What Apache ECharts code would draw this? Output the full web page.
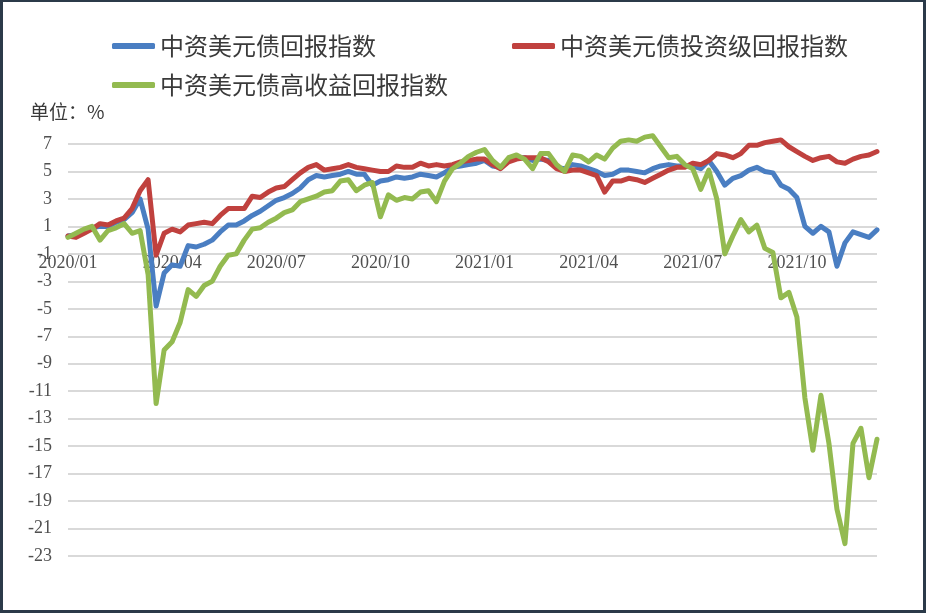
<!DOCTYPE html>
<html>
<head>
<meta charset="utf-8">
<script src="https://cdn.jsdelivr.net/npm/echarts@6/dist/echarts.min.js"></script>
<style>
  html, body { margin: 0; padding: 0; background: #fff; }
  #chart { width: 926px; height: 613px; }
  #frame { position: absolute; left: 0; top: 0; width: 926px; height: 613px; box-sizing: border-box;
           border: 3px solid #2b3a49; border-top-width: 2px; pointer-events: none; }
</style>
</head>
<body>
<div id="chart"></div>
<div id="frame"></div>
<script>
// 系列名称
const seriesNames = ['中资美元债回报指数', '中资美元债投资级回报指数', '中资美元债高收益回报指数']

// y轴刻度（奇数）
const yTicks = [-23, -21, -19, -17, -15, -13, -11, -9, -7, -5, -3, -1, 1, 3, 5, 7]

// 周度日期，从2020/01/03开始
const startDate = '2020-01-03'
const weekCount = 102

// 中资美元债回报指数
const totalReturn = [
  0.3, 0.4, 0.7, 0.9, 1.0, 1.0, 1.3, 1.5, 2.0, 3.0,
  0.8, -4.8, -2.4, -1.8, -1.9, -0.4, -0.5, -0.3, 0.0, 0.6,
  1.1, 1.1, 1.4, 1.8, 2.1, 2.5, 2.9, 3.1, 3.4, 3.8,
  4.4, 4.7, 4.6, 4.7, 4.8, 5.0, 4.8, 4.8, 4.0, 4.3,
  4.4, 4.6, 4.5, 4.6, 4.8, 4.7, 4.6, 4.9, 5.3, 5.4,
  5.5, 5.6, 5.8, 5.4, 5.3, 5.8, 6.0, 6.0, 5.8, 5.9,
  5.8, 5.3, 5.2, 5.5, 5.4, 5.2, 5.0, 4.7, 4.8, 5.1,
  5.1, 5.0, 4.9, 5.2, 5.4, 5.5, 5.4, 5.4, 5.4, 5.2,
  5.8, 5.0, 4.0, 4.5, 4.7, 5.1, 5.3, 5.0, 4.9, 4.0,
  3.7, 3.1, 1.0, 0.5, 1.0, 0.6, -1.9, -0.2, 0.6, 0.4,
  0.2, 0.75
]

// 投资级
const investGrade = [
  0.3, 0.2, 0.5, 0.8, 1.2, 1.1, 1.4, 1.6, 2.3, 3.6,
  4.4, -1.1, 0.5, 0.8, 0.6, 1.1, 1.2, 1.3, 1.2, 1.8,
  2.3, 2.3, 2.3, 3.2, 3.1, 3.5, 3.8, 3.9, 4.4, 4.9,
  5.3, 5.5, 5.1, 5.2, 5.3, 5.5, 5.3, 5.2, 5.1, 5.0,
  5.0, 5.4, 5.3, 5.3, 5.6, 5.4, 5.5, 5.4, 5.5, 5.7,
  5.8, 5.9, 5.9, 5.5, 5.2, 5.7, 5.9, 6.0, 6.0, 6.0,
  5.7, 5.2, 5.0, 5.1, 5.1, 4.9, 4.7, 3.5, 4.3, 4.3,
  4.5, 4.4, 4.2, 4.5, 4.8, 5.1, 5.3, 5.3, 5.6, 5.5,
  5.8, 6.3, 6.2, 6.0, 6.3, 6.9, 6.9, 7.1, 7.2, 7.3,
  6.8, 6.45, 6.1, 5.8, 6.0, 6.1, 5.7, 5.6, 5.9, 6.1,
  6.2, 6.45
]

// 高收益
const highYield = [
  0.2, 0.5, 0.8, 1.0, 0.0, 0.7, 0.9, 1.2, 0.5, 0.7,
  -2.5, -11.9, -8.0, -7.4, -6.0, -3.6, -4.1, -3.3, -3.0, -1.9,
  -1.1, -1.0, 0.0, 0.8, 0.9, 1.3, 1.6, 2.0, 2.2, 2.8,
  3.0, 3.2, 3.5, 3.6, 4.3, 4.4, 3.6, 4.0, 4.2, 1.7,
  3.3, 2.9, 3.1, 3.0, 3.5, 3.6, 2.8, 4.3, 5.2, 5.6,
  6.1, 6.4, 6.6, 5.8, 5.3, 6.0, 6.2, 5.9, 5.2, 6.3,
  6.3, 5.5, 5.0, 6.2, 6.1, 5.7, 6.2, 5.9, 6.7, 7.2,
  7.3, 7.2, 7.5, 7.6, 6.8, 6.0, 6.1, 5.5, 5.2, 3.7,
  5.1, 3.0, -1.0, 0.3, 1.5, 0.6, 1.1, -0.6, -0.9, -4.2,
  -3.8, -5.6, -11.5, -15.3, -11.3, -14.8, -19.6, -22.1, -14.8, -13.7,
  -17.3, -14.5
]

const colors = ['#4A7EC2', '#C0413E', '#93BA50']

// 生成周度日期
const dates = []
const d0 = new Date(startDate + 'T00:00:00')
for (let i = 0; i < weekCount; i++) {
  const d = new Date(d0.getTime() + i * 7 * 86400000)
  const mm = String(d.getMonth() + 1).padStart(2, '0')
  const dd = String(d.getDate()).padStart(2, '0')
  dates.push(d.getFullYear() + '/' + mm + '/' + dd)
}

const isQuarterStart = val => {
  const parts = val.split('/')
  const m = +parts[1]
  return +parts[2] <= 7 && (m === 1 || m === 4 || m === 7 || m === 10)
}

const chart = echarts.init(document.getElementById('chart'))

const textFont = "'Liberation Serif', 'Noto Sans CJK SC', serif"
const legendBase = {
  icon: 'roundRect',
  itemWidth: 43,
  itemHeight: 6,
  textStyle: { fontSize: 24, color: '#3a3a3a', fontFamily: "'Noto Sans CJK SC', sans-serif" }
}

// 网格位置，x轴标签放在0轴下方
const gridTop = 144
const gridBottom = 57
const yMin = -23
const yMax = 7
const plotH = 613 - gridTop - gridBottom
const zeroOffset = -plotH * (0 - yMin) / (yMax - yMin)

const option = {
  animation: false,
  backgroundColor: '#fff',
  color: colors,
  legend: [
    Object.assign({ data: [seriesNames[0]], left: 107, top: 29 }, legendBase),
    Object.assign({ data: [seriesNames[1]], left: 507, top: 29 }, legendBase),
    Object.assign({ data: [seriesNames[2]], left: 107, top: 68 }, legendBase)
  ],
  title: {
    text: '单位：%',
    left: 25,
    top: 97,
    textStyle: { fontSize: 19, fontWeight: 'normal', color: '#3a3a3a', fontFamily: "'Noto Sans CJK SC', sans-serif" }
  },
  grid: { left: 68, right: 49, top: gridTop, bottom: gridBottom },
  xAxis: {
    type: 'category',
    data: dates,
    boundaryGap: false,
    position: 'bottom',
    offset: zeroOffset,
    axisLine: { show: false, onZero: false },
    axisTick: { show: false },
    splitLine: { show: false },
    axisLabel: {
      interval: (idx, val) => isQuarterStart(val),
      formatter: val => val.slice(0, 7),
      margin: 14,
      fontSize: 18,
      color: '#505050',
      fontFamily: textFont,
      showMinLabel: true
    }
  },
  yAxis: {
    type: 'value',
    min: yMin,
    max: yMax,
    axisLine: { show: false },
    axisTick: { show: false, customValues: yTicks },
    axisLabel: {
      customValues: yTicks,
      margin: 16,
      fontSize: 18,
      color: '#505050',
      fontFamily: textFont
    },
    splitLine: { show: true, lineStyle: { color: '#d9d9d9', width: 2 } }
  },
  series: [
    { name: seriesNames[0], type: 'line', data: totalReturn },
    { name: seriesNames[1], type: 'line', data: investGrade },
    { name: seriesNames[2], type: 'line', data: highYield }
  ].map(s => Object.assign(s, {
    showSymbol: false,
    symbol: 'none',
    clip: false,
    lineStyle: { width: 5, join: 'round', cap: 'round' }
  }))
}

chart.setOption(option)
</script>
</body>
</html>
